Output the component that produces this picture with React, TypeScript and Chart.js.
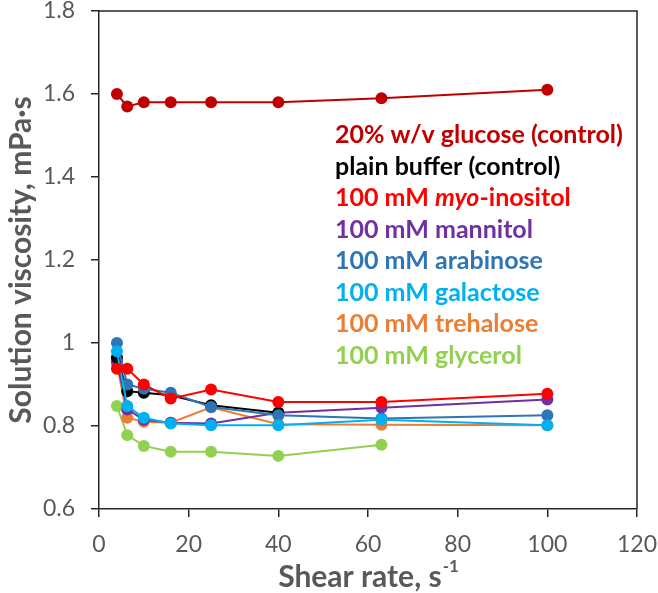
import React, { useEffect, useRef } from "react";
import { Chart, registerables } from "chart.js";

Chart.register(...registerables);

const shearRates = [4, 6.3, 10, 16, 25, 40, 63, 100];
const glucose = [1.6, 1.57, 1.58, 1.58, 1.58, 1.58, 1.59, 1.61];
const plainBuffer = [0.965, 0.884, 0.88, 0.874, 0.85, 0.832, null, null];
const myoInositol = [0.938, 0.938, 0.9, 0.866, 0.888, 0.858, 0.858, 0.878];
const mannitol = [0.956, 0.84, 0.815, 0.808, 0.806, 0.832, 0.844, 0.864];
const arabinose = [1.0, 0.9, 0.89, 0.88, 0.846, 0.826, 0.818, 0.826];
const galactose = [0.98, 0.848, 0.82, 0.806, 0.802, 0.802, 0.815, 0.802];
const trehalose = [0.95, 0.82, 0.81, 0.808, 0.845, 0.804, 0.803, 0.802];
const glycerol = [0.848, 0.778, 0.752, 0.738, 0.738, 0.728, 0.755, null];

const seriesNames = [
  "20% w/v glucose (control)",
  "plain buffer (control)",
  "100 mM myo-inositol",
  "100 mM mannitol",
  "100 mM arabinose",
  "100 mM galactose",
  "100 mM trehalose",
  "100 mM glycerol",
];
const seriesColors = [
  "#C00000",
  "#000000",
  "#FF0000",
  "#7030A0",
  "#2E75B6",
  "#00B0F0",
  "#ED7D31",
  "#92D050",
];
const seriesValues = [glucose, plainBuffer, myoInositol, mannitol, arabinose, galactose, trehalose, glycerol];
// drawing order: lower = on top
const seriesOrder = [7, 3, 0, 4, 2, 1, 5, 6];

const yTitle = "Solution viscosity, mPa·s";
const xTitle = "Shear rate, s";
const xTitleSup = "-1";

const FONT = "Lato, 'Open Sans', sans-serif";
const GREY = "#595959";

const overlay = {
  id: "overlay",
  afterDraw(chart: any) {
    const { ctx, chartArea } = chart;
    ctx.save();
    // box
    ctx.strokeStyle = "#262626";
    ctx.lineWidth = 1.5;
    ctx.beginPath();
    ctx.moveTo(chartArea.left, chartArea.top);
    ctx.lineTo(chartArea.right, chartArea.top);
    ctx.lineTo(chartArea.right, chartArea.bottom);
    ctx.stroke();

    // y title
    ctx.fillStyle = GREY;
    ctx.font = `bold 30px ${FONT}`;
    ctx.textAlign = "center";
    ctx.textBaseline = "middle";
    ctx.save();
    ctx.translate(21, (chartArea.top + chartArea.bottom) / 2);
    ctx.rotate(-Math.PI / 2);
    ctx.fillText(yTitle, 0, 0);
    ctx.restore();

    // x title with superscript
    ctx.font = `bold 30px ${FONT}`;
    const w1 = ctx.measureText(xTitle).width;
    ctx.font = `bold 17px ${FONT}`;
    const w2 = ctx.measureText(xTitleSup).width;
    const cx = (chartArea.left + chartArea.right) / 2;
    const startX = cx - (w1 + w2) / 2;
    ctx.textAlign = "left";
    ctx.font = `bold 30px ${FONT}`;
    ctx.fillText(xTitle, startX, 577);
    ctx.font = `bold 17px ${FONT}`;
    ctx.fillText(xTitleSup, startX + w1 + 1, 567);

    // legend text
    const lx = 335;
    const ly0 = 135;
    const dy = 31.5;
    ctx.textBaseline = "middle";
    seriesNames.forEach((name, i) => {
      const y = ly0 + i * dy;
      ctx.fillStyle = seriesColors[i];
      if (name.includes("myo")) {
        const parts = [
          { t: "100 mM ", it: false },
          { t: "myo", it: true },
          { t: "-inositol", it: false },
        ];
        let x = lx;
        parts.forEach((p) => {
          ctx.font = `${p.it ? "italic " : ""}bold 25px ${FONT}`;
          ctx.fillText(p.t, x, y);
          x += ctx.measureText(p.t).width;
        });
      } else {
        ctx.font = `bold 25px ${FONT}`;
        ctx.fillText(name, lx, y);
      }
    });
    ctx.restore();
  },
};

export default function App() {
  const ref = useRef<HTMLCanvasElement | null>(null);
  useEffect(() => {
    if (!ref.current) return;
    const datasets = seriesNames.map((name, i) => ({
      label: name,
      data: shearRates
        .map((x, j) => ({ x, y: seriesValues[i][j] }))
        .filter((p) => p.y !== null && p.y !== undefined),
      borderColor: seriesColors[i],
      backgroundColor: seriesColors[i],
      pointBackgroundColor: seriesColors[i],
      pointBorderColor: seriesColors[i],
      pointRadius: 6,
      pointBorderWidth: 0,
      borderWidth: 2,
      tension: 0,
      order: seriesOrder[i],
    }));
    const chart = new Chart(ref.current, {
      type: "line",
      data: { datasets },
      plugins: [overlay],
      options: {
        animation: false,
        responsive: false,
        layout: { padding: { left: 0, right: 21, top: 11, bottom: 0 } },
        plugins: { legend: { display: false }, tooltip: { enabled: false } },
        scales: {
          x: {
            type: "linear",
            min: 0,
            max: 120,
            ticks: { stepSize: 20, color: GREY, font: { family: FONT, size: 23 }, padding: 14, maxRotation: 0 },
            grid: { drawOnChartArea: false, drawTicks: true, tickLength: 8, color: "#262626", lineWidth: 1.5 },
            border: { display: true, color: "#262626", width: 1.5 },
            afterFit: (s: any) => {
              s.height = 84;
              s.paddingLeft = 0;
              s.paddingRight = 0;
            },
          },
          y: {
            type: "linear",
            min: 0.6,
            max: 1.8,
            ticks: {
              stepSize: 0.2,
              color: GREY,
              font: { family: FONT, size: 23 },
              padding: 16,
              callback: (v: any) => String(Number(Number(v).toFixed(1))),
            },
            grid: { drawOnChartArea: false, drawTicks: true, tickLength: 8, color: "#262626", lineWidth: 1.5 },
            border: { display: true, color: "#262626", width: 1.5 },
            afterFit: (s: any) => {
              s.width = 99;
              s.paddingTop = 0;
              s.paddingBottom = 0;
            },
          },
        },
      },
    });
    return () => chart.destroy();
  }, []);
  return (
    <div style={{ position: "absolute", left: 0, top: 0, width: 658, height: 593, background: "#fff" }}>
      <canvas ref={ref} width={658} height={593} style={{ width: 658, height: 593 }} />
    </div>
  );
}
